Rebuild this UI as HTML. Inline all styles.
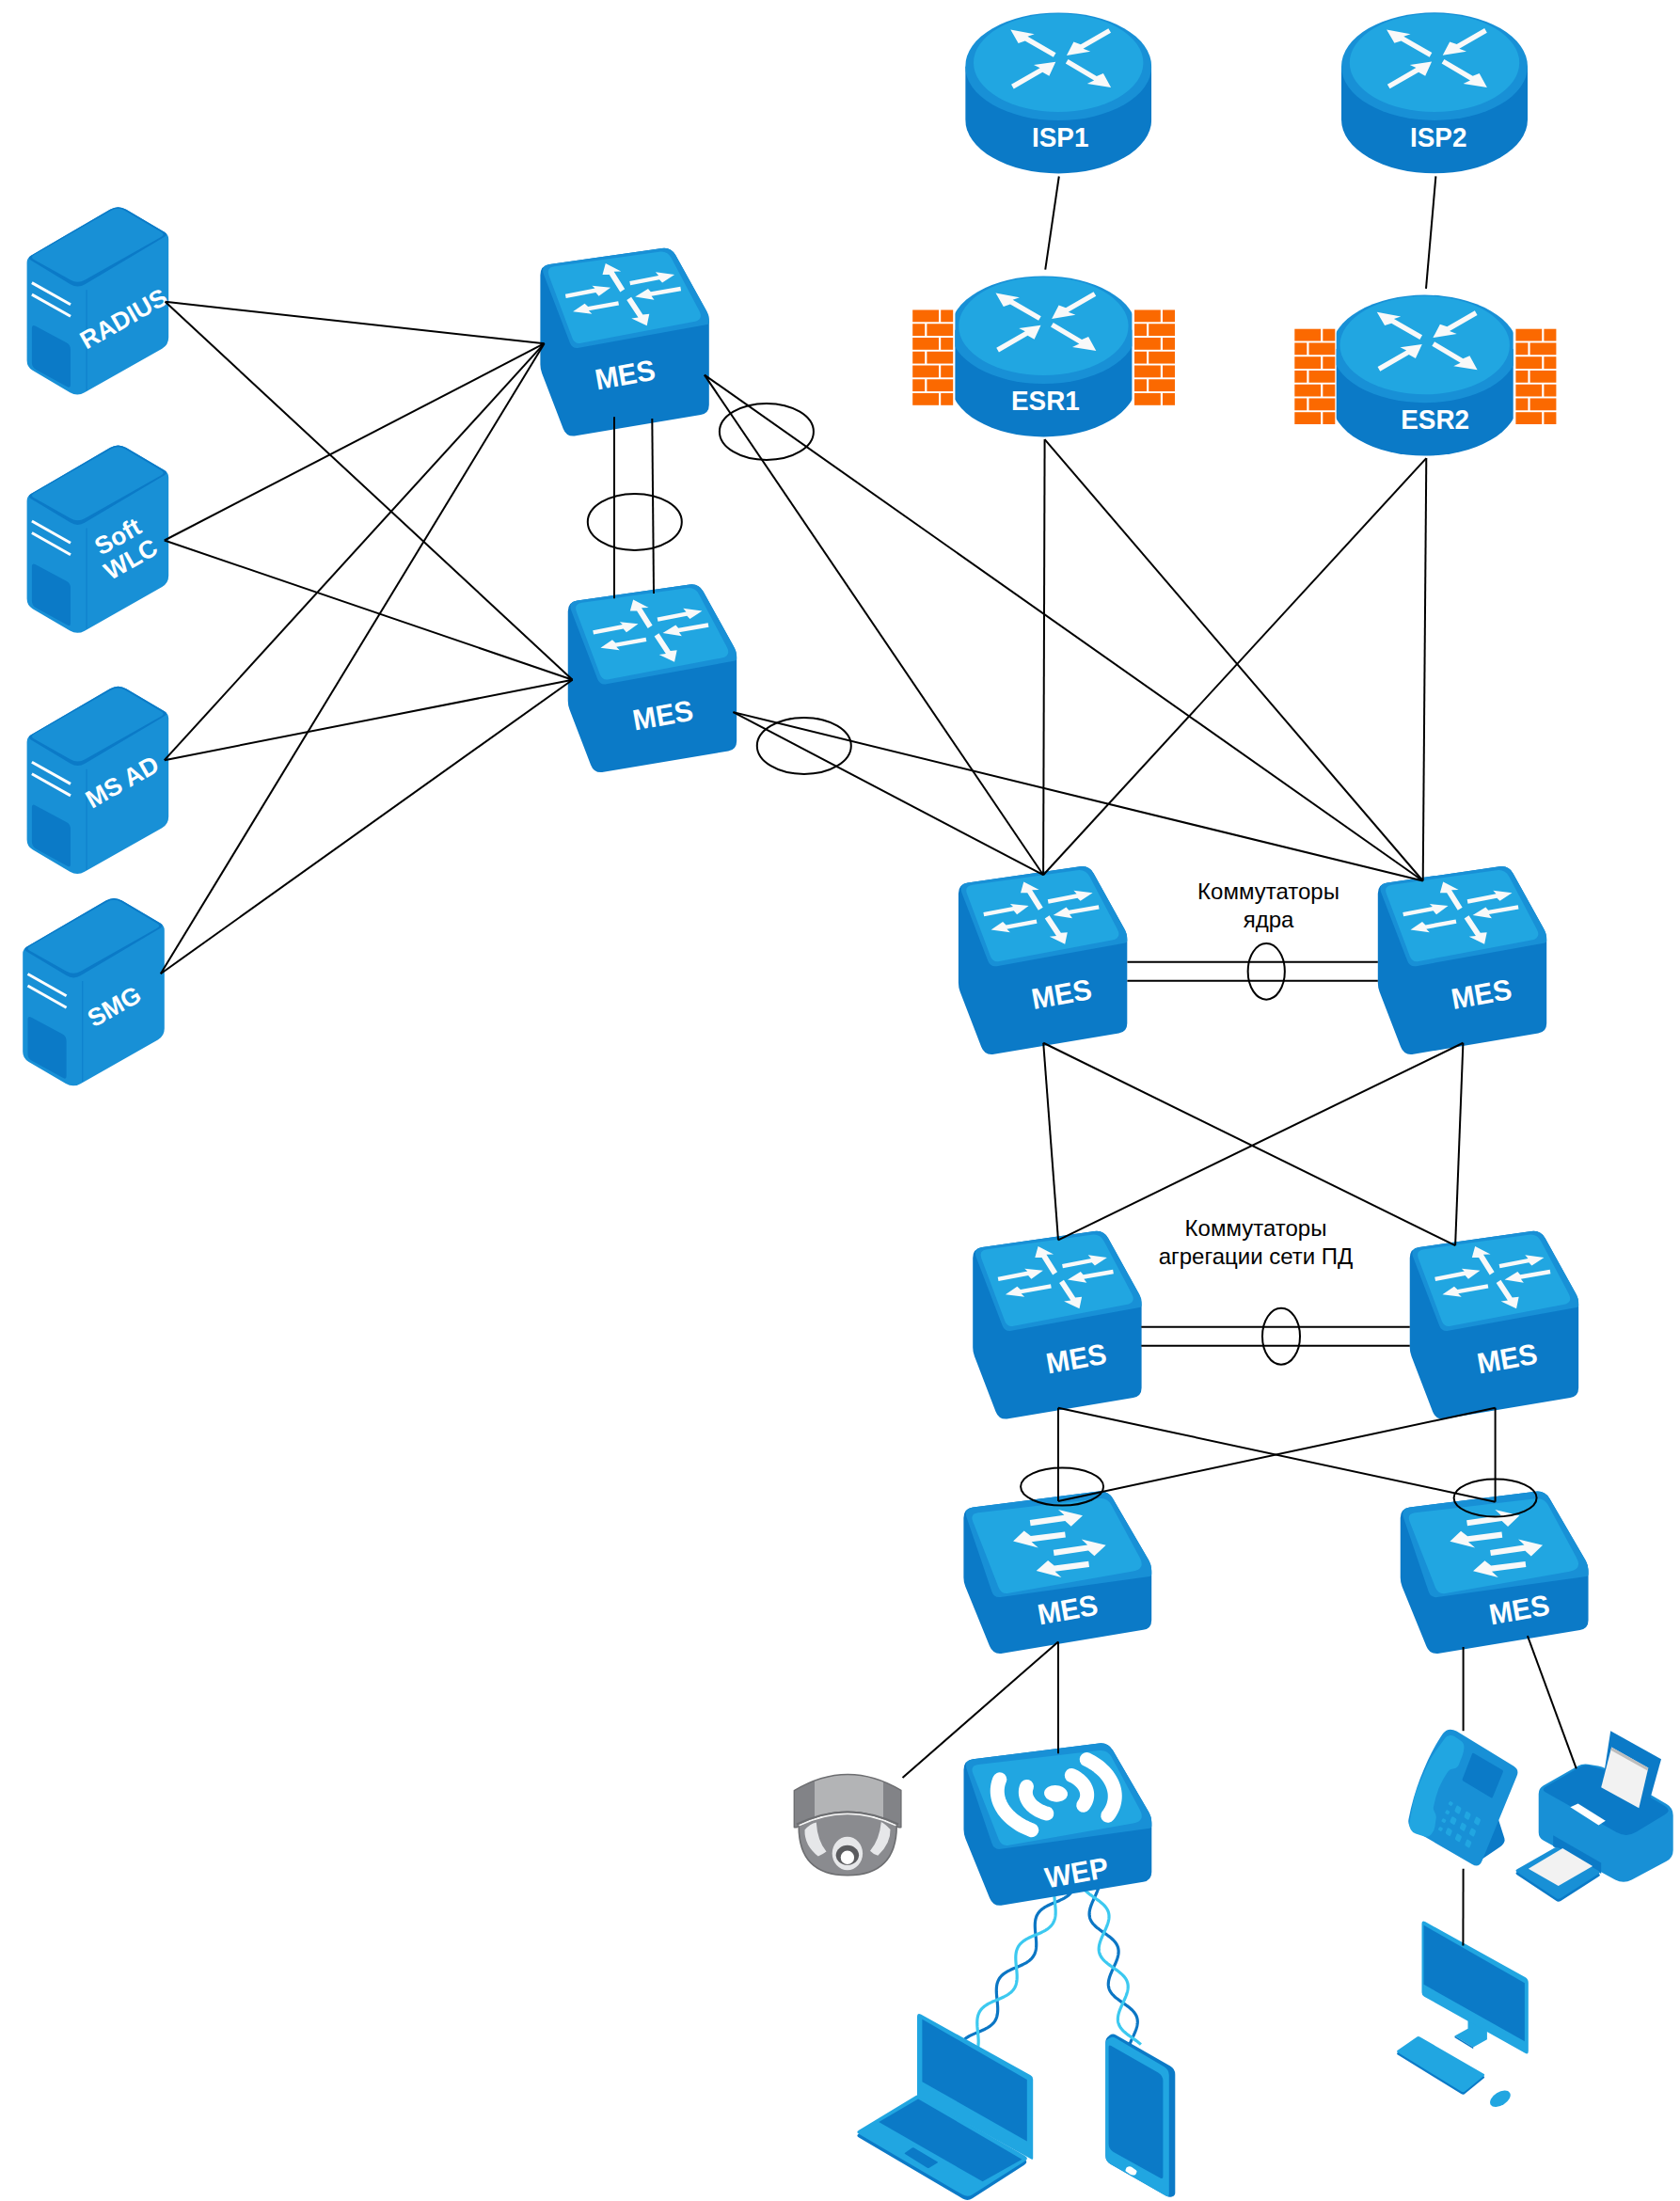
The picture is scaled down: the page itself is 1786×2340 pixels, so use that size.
<!DOCTYPE html>
<html><head><meta charset="utf-8"><title>network</title>
<style>html,body{margin:0;padding:0;background:#fff;width:1786px;height:2340px;overflow:hidden}svg{display:block}</style>
</head><body>
<svg xmlns="http://www.w3.org/2000/svg" width="1786" height="2340" viewBox="0 0 1786 2340">
<rect width="1786" height="2340" fill="#fff"/>
<g fill="none" stroke-width="3.2">
<path d="M1138.67 2012.02L1138.04 2012.79L1137.35 2013.54L1136.61 2014.26L1135.84 2014.95L1135.01 2015.61L1134.15 2016.25L1133.24 2016.87L1132.3 2017.47L1131.33 2018.04L1130.32 2018.59L1129.29 2019.13L1128.22 2019.66L1127.14 2020.17L1126.04 2020.67L1124.92 2021.16L1123.79 2021.64L1122.66 2022.12L1121.52 2022.59L1120.38 2023.07L1119.24 2023.55L1118.11 2024.03L1116.99 2024.52L1115.89 2025.02L1114.81 2025.53L1113.74 2026.05L1112.71 2026.59L1111.7 2027.15L1110.72 2027.72L1109.78 2028.31L1108.88 2028.93L1108.01 2029.57L1107.19 2030.23L1106.41 2030.92L1105.67 2031.64L1104.98 2032.39L1104.34 2033.16L1103.75 2033.96L1103.21 2034.79L1102.71 2035.65L1102.27 2036.54L1101.87 2037.46L1101.52 2038.41L1101.22 2039.38L1100.97 2040.38L1100.76 2041.41L1100.59 2042.47L1100.46 2043.55L1100.37 2044.65L1100.32 2045.77L1100.3 2046.91L1100.31 2048.07L1100.35 2049.25L1100.41 2050.44L1100.49 2051.64L1100.58 2052.85L1100.69 2054.07L1100.81 2055.29L1100.94 2056.52L1101.07 2057.75L1101.19 2058.98L1101.31 2060.21L1101.42 2061.42L1101.52 2062.64L1101.6 2063.84L1101.66 2065.03L1101.69 2066.2L1101.7 2067.36L1101.68 2068.5L1101.62 2069.62L1101.53 2070.72L1101.4 2071.8L1101.23 2072.85L1101.02 2073.88L1100.76 2074.88L1100.46 2075.85L1100.11 2076.8L1099.71 2077.71L1099.26 2078.6L1098.76 2079.46L1098.22 2080.29L1097.62 2081.09L1096.98 2081.86L1096.29 2082.6L1095.55 2083.32L1094.76 2084.01L1093.94 2084.67L1093.07 2085.31L1092.16 2085.92L1091.22 2086.52L1090.24 2087.09L1089.23 2087.64L1088.19 2088.18L1087.13 2088.7L1086.04 2089.21L1084.94 2089.71L1083.82 2090.2L1082.69 2090.68L1081.56 2091.16L1080.42 2091.64L1079.28 2092.11L1078.14 2092.59L1077.01 2093.07L1075.89 2093.56L1074.79 2094.06L1073.71 2094.57L1072.65 2095.1L1071.62 2095.64L1070.61 2096.19L1069.64 2096.77L1068.7 2097.37L1067.8 2097.98L1066.94 2098.63L1066.12 2099.29L1065.34 2099.99L1064.61 2100.71L1063.92 2101.45L1063.29 2102.23L1062.7 2103.03L1062.16 2103.87L1061.67 2104.73L1061.23 2105.62L1060.84 2106.54L1060.5 2107.49L1060.2 2108.47L1059.95 2109.47L1059.74 2110.51L1059.58 2111.56L1059.45 2112.64L1059.37 2113.74L1059.32 2114.87L1059.3 2116.01L1059.31 2117.17L1059.35 2118.35L1059.41 2119.54L1059.49 2120.74L1059.59 2121.96L1059.7 2123.18L1059.83 2124.4L1059.95 2125.63L1060.08 2126.86L1060.2 2128.09L1060.32 2129.31L1060.43 2130.53L1060.53 2131.74L1060.6 2132.94L1060.66 2134.13L1060.69 2135.3L1060.7 2136.46L1060.67 2137.6L1060.62 2138.72L1060.52 2139.82L1060.39 2140.89L1060.21 2141.94L1060 2142.97L1059.74 2143.96L1059.43 2144.93L1059.07 2145.88L1058.67 2146.79L1058.22 2147.68L1057.72 2148.53L1057.17 2149.36L1056.57 2150.16L1055.92 2150.93L1055.22 2151.67L1054.48 2152.38L1053.69 2153.07L1052.86 2153.73L1051.99 2154.36L1051.08 2154.98L1050.13 2155.57L1049.15 2156.14L1048.14 2156.69L1047.1 2157.23L1046.04 2157.75L1044.95 2158.25L1043.84 2158.75L1042.72 2159.24L1041.59 2159.72L1040.46 2160.2L1039.32 2160.68L1038.18 2161.15L1037.04 2161.63L1035.91 2162.12L1034.8 2162.61L1033.7 2163.11L1032.62 2163.62L1031.56 2164.15L1030.53 2164.69L1029.52 2165.24L1028.55 2165.82L1027.62 2166.42L1026.72 2167.04L1025.86 2167.68L1025.05 2168.35L1024.27 2169.05L1023.55 2169.77L1022.87 2170.52L1022.23 2171.3L1021.65 2172.1L1021.12 2172.94" stroke="#0B76C4"/>
<path d="M1122.58 2002.46L1122.21 2003.39L1121.88 2004.35L1121.6 2005.34L1121.37 2006.35L1121.18 2007.39L1121.03 2008.46L1120.92 2009.55L1120.84 2010.66L1120.81 2011.79L1120.8 2012.94L1120.82 2014.1L1120.87 2015.29L1120.94 2016.48L1121.03 2017.69L1121.13 2018.9L1121.25 2020.13L1121.37 2021.35L1121.5 2022.58L1121.63 2023.81L1121.75 2025.04L1121.86 2026.26L1121.97 2027.48L1122.06 2028.68L1122.13 2029.88L1122.18 2031.06L1122.2 2032.23L1122.19 2033.38L1122.16 2034.51L1122.09 2035.62L1121.98 2036.71L1121.83 2037.78L1121.64 2038.82L1121.41 2039.84L1121.13 2040.82L1120.8 2041.79L1120.43 2042.72L1120.01 2043.62L1119.54 2044.5L1119.02 2045.34L1118.45 2046.16L1117.83 2046.94L1117.17 2047.7L1116.45 2048.43L1115.7 2049.14L1114.89 2049.81L1114.05 2050.46L1113.16 2051.09L1112.24 2051.7L1111.28 2052.28L1110.28 2052.84L1109.26 2053.39L1108.21 2053.92L1107.14 2054.44L1106.04 2054.94L1104.93 2055.43L1103.81 2055.92L1102.67 2056.4L1101.54 2056.88L1100.4 2057.35L1099.26 2057.83L1098.12 2058.31L1097 2058.8L1095.89 2059.29L1094.8 2059.8L1093.72 2060.31L1092.68 2060.84L1091.65 2061.39L1090.66 2061.95L1089.71 2062.54L1088.78 2063.15L1087.9 2063.77L1087.06 2064.43L1086.26 2065.11L1085.5 2065.81L1084.79 2066.54L1084.13 2067.3L1083.51 2068.09L1082.95 2068.91L1082.43 2069.76L1081.96 2070.63L1081.55 2071.54L1081.18 2072.47L1080.85 2073.43L1080.58 2074.42L1080.35 2075.44L1080.16 2076.48L1080.02 2077.55L1079.91 2078.64L1079.84 2079.75L1079.8 2080.89L1079.8 2082.04L1079.83 2083.21L1079.88 2084.39L1079.95 2085.59L1080.04 2086.8L1080.14 2088.01L1080.26 2089.23L1080.38 2090.46L1080.51 2091.69L1080.64 2092.92L1080.76 2094.15L1080.87 2095.37L1080.98 2096.58L1081.06 2097.79L1081.13 2098.98L1081.18 2100.17L1081.2 2101.33L1081.19 2102.48L1081.15 2103.61L1081.08 2104.72L1080.97 2105.81L1080.81 2106.87L1080.62 2107.91L1080.38 2108.92L1080.1 2109.91L1079.77 2110.87L1079.39 2111.8L1078.97 2112.7L1078.49 2113.57L1077.97 2114.41L1077.4 2115.23L1076.78 2116.01L1076.11 2116.77L1075.39 2117.5L1074.63 2118.2L1073.82 2118.87L1072.97 2119.52L1072.08 2120.15L1071.15 2120.75L1070.19 2121.33L1069.2 2121.89L1068.17 2122.44L1067.12 2122.97L1066.04 2123.48L1064.95 2123.98L1063.83 2124.48L1062.71 2124.96L1061.57 2125.44L1060.44 2125.92L1059.29 2126.39L1058.16 2126.87L1057.02 2127.35L1055.9 2127.84L1054.79 2128.33L1053.7 2128.84L1052.63 2129.36L1051.59 2129.89L1050.57 2130.44L1049.58 2131.01L1048.62 2131.59L1047.7 2132.2L1046.82 2132.83L1045.98 2133.49L1045.19 2134.17L1044.44 2134.87L1043.73 2135.61L1043.07 2136.37L1042.46 2137.16L1041.9 2137.98L1041.39 2138.83L1040.93 2139.71L1040.51 2140.62L1040.15 2141.56L1039.83 2142.52L1039.56 2143.51L1039.33 2144.53L1039.15 2145.58L1039 2146.65L1038.9 2147.74L1038.84 2148.85L1038.8 2149.99L1038.8 2151.14L1038.83 2152.31L1038.88 2153.5L1038.95 2154.69L1039.05 2155.9L1039.15 2157.12L1039.27 2158.34L1039.39 2159.57L1039.52 2160.8L1039.65 2162.03L1039.77 2163.25L1039.88 2164.48L1039.98 2165.69L1040.07 2166.9L1040.14 2168.09L1040.18 2169.27L1040.2 2170.43L1040.19 2171.58L1040.15 2172.71L1040.07 2173.82L1039.95 2174.9L1039.8 2175.96L1039.6 2177L1039.36 2178.01L1039.07 2179L1038.74 2179.95L1038.36 2180.88L1037.93 2181.78L1037.45 2182.65" stroke="#3CC9F0"/>
<path d="M1168.38 1996.12L1168.6 1997.01L1168.76 1997.92L1168.86 1998.84L1168.91 1999.77L1168.91 2000.72L1168.86 2001.68L1168.75 2002.66L1168.6 2003.64L1168.41 2004.65L1168.17 2005.66L1167.89 2006.68L1167.57 2007.71L1167.22 2008.76L1166.84 2009.81L1166.43 2010.87L1165.99 2011.93L1165.53 2013L1165.06 2014.08L1164.58 2015.16L1164.08 2016.24L1163.58 2017.32L1163.08 2018.41L1162.59 2019.49L1162.1 2020.57L1161.62 2021.65L1161.16 2022.72L1160.71 2023.79L1160.29 2024.85L1159.9 2025.9L1159.54 2026.95L1159.21 2027.98L1158.92 2029.01L1158.67 2030.03L1158.46 2031.03L1158.29 2032.02L1158.17 2033L1158.1 2033.97L1158.08 2034.92L1158.12 2035.86L1158.2 2036.78L1158.35 2037.69L1158.54 2038.59L1158.79 2039.47L1159.1 2040.33L1159.46 2041.18L1159.87 2042.02L1160.34 2042.84L1160.86 2043.65L1161.43 2044.44L1162.04 2045.22L1162.71 2045.99L1163.41 2046.74L1164.16 2047.49L1164.95 2048.22L1165.77 2048.95L1166.62 2049.67L1167.5 2050.37L1168.41 2051.08L1169.34 2051.77L1170.29 2052.46L1171.25 2053.15L1172.22 2053.84L1173.2 2054.52L1174.17 2055.2L1175.15 2055.88L1176.12 2056.57L1177.08 2057.26L1178.02 2057.95L1178.95 2058.65L1179.85 2059.35L1180.73 2060.06L1181.58 2060.78L1182.39 2061.5L1183.17 2062.24L1183.92 2062.99L1184.61 2063.75L1185.27 2064.52L1185.88 2065.3L1186.44 2066.09L1186.95 2066.9L1187.4 2067.73L1187.81 2068.57L1188.16 2069.42L1188.46 2070.29L1188.7 2071.17L1188.88 2072.07L1189.01 2072.98L1189.09 2073.9L1189.12 2074.85L1189.09 2075.8L1189.01 2076.77L1188.88 2077.75L1188.71 2078.75L1188.49 2079.75L1188.23 2080.77L1187.93 2081.8L1187.6 2082.84L1187.23 2083.88L1186.83 2084.94L1186.41 2086L1185.96 2087.07L1185.5 2088.14L1185.02 2089.22L1184.53 2090.3L1184.03 2091.38L1183.53 2092.47L1183.03 2093.55L1182.54 2094.63L1182.06 2095.71L1181.59 2096.78L1181.13 2097.85L1180.7 2098.92L1180.29 2099.98L1179.92 2101.03L1179.57 2102.07L1179.26 2103.1L1178.99 2104.12L1178.76 2105.13L1178.57 2106.13L1178.42 2107.12L1178.33 2108.09L1178.29 2109.05L1178.29 2109.99L1178.35 2110.92L1178.47 2111.84L1178.64 2112.74L1178.86 2113.63L1179.14 2114.5L1179.47 2115.36L1179.86 2116.2L1180.3 2117.03L1180.79 2117.85L1181.34 2118.65L1181.93 2119.43L1182.57 2120.21L1183.25 2120.97L1183.98 2121.72L1184.75 2122.46L1185.55 2123.19L1186.39 2123.91L1187.26 2124.62L1188.16 2125.33L1189.08 2126.03L1190.01 2126.72L1190.97 2127.41L1191.94 2128.09L1192.91 2128.78L1193.89 2129.46L1194.86 2130.14L1195.84 2130.83L1196.8 2131.51L1197.75 2132.2L1198.69 2132.9L1199.6 2133.6L1200.5 2134.3L1201.36 2135.02L1202.19 2135.74L1202.99 2136.47L1203.75 2137.21L1204.47 2137.97L1205.15 2138.73L1205.78 2139.51L1206.36 2140.3L1206.9 2141.1L1207.38 2141.92L1207.81 2142.75L1208.19 2143.59L1208.51 2144.45L1208.78 2145.33L1209 2146.22L1209.16 2147.12L1209.26 2148.04L1209.31 2148.97L1209.31 2149.92L1209.26 2150.88L1209.15 2151.86L1209 2152.85L1208.81 2153.85L1208.57 2154.86L1208.29 2155.88L1207.97 2156.92L1207.62 2157.96L1207.24 2159.01L1206.82 2160.07L1206.39 2161.14L1205.93 2162.21L1205.46 2163.28L1204.97 2164.36L1204.48 2165.44L1203.98 2166.53L1203.48 2167.61L1202.98 2168.69L1202.5 2169.77L1202.02 2170.85L1201.56 2171.92L1201.11 2172.99L1200.69 2174.05L1200.3 2175.1L1199.94 2176.15L1199.61 2177.19" stroke="#0B76C4"/>
<path d="M1148.5 2001.51L1148.76 2002.38L1149.08 2003.25L1149.46 2004.09L1149.88 2004.92L1150.36 2005.74L1150.89 2006.55L1151.47 2007.34L1152.1 2008.11L1152.78 2008.88L1153.49 2009.63L1154.25 2010.37L1155.05 2011.11L1155.88 2011.83L1156.74 2012.54L1157.63 2013.25L1158.54 2013.95L1159.48 2014.64L1160.43 2015.33L1161.39 2016.02L1162.36 2016.71L1163.34 2017.39L1164.32 2018.07L1165.29 2018.76L1166.26 2019.44L1167.22 2020.13L1168.16 2020.82L1169.08 2021.52L1169.97 2022.23L1170.84 2022.94L1171.69 2023.66L1172.49 2024.39L1173.26 2025.13L1173.99 2025.88L1174.68 2026.64L1175.33 2027.41L1175.92 2028.2L1176.47 2029L1176.97 2029.81L1177.41 2030.64L1177.8 2031.48L1178.14 2032.33L1178.42 2033.2L1178.65 2034.09L1178.82 2034.99L1178.94 2035.91L1179 2036.84L1179.01 2037.78L1178.97 2038.74L1178.88 2039.71L1178.75 2040.7L1178.56 2041.7L1178.33 2042.7L1178.06 2043.73L1177.75 2044.76L1177.41 2045.8L1177.03 2046.85L1176.63 2047.9L1176.2 2048.97L1175.75 2050.04L1175.28 2051.11L1174.8 2052.19L1174.3 2053.27L1173.81 2054.35L1173.31 2055.44L1172.81 2056.52L1172.32 2057.6L1171.84 2058.68L1171.37 2059.75L1170.92 2060.82L1170.5 2061.88L1170.1 2062.94L1169.73 2063.99L1169.39 2065.03L1169.09 2066.05L1168.83 2067.07L1168.6 2068.08L1168.43 2069.08L1168.3 2070.06L1168.22 2071.03L1168.18 2071.98L1168.2 2072.93L1168.28 2073.85L1168.41 2074.77L1168.59 2075.67L1168.82 2076.55L1169.12 2077.42L1169.46 2078.27L1169.86 2079.11L1170.32 2079.94L1170.82 2080.75L1171.38 2081.54L1171.98 2082.33L1172.64 2083.1L1173.33 2083.86L1174.07 2084.6L1174.85 2085.34L1175.66 2086.07L1176.51 2086.79L1177.38 2087.5L1178.28 2088.2L1179.21 2088.9L1180.15 2089.59L1181.11 2090.28L1182.08 2090.96L1183.05 2091.65L1184.03 2092.33L1185.01 2093.01L1185.98 2093.7L1186.94 2094.39L1187.89 2095.08L1188.82 2095.77L1189.73 2096.47L1190.61 2097.18L1191.47 2097.9L1192.29 2098.62L1193.08 2099.36L1193.83 2100.1L1194.54 2100.86L1195.21 2101.62L1195.83 2102.4L1196.4 2103.19L1196.92 2104L1197.4 2104.82L1197.81 2105.66L1198.18 2106.5L1198.49 2107.37L1198.74 2108.25L1198.94 2109.14L1199.09 2110.05L1199.18 2110.97L1199.22 2111.91L1199.2 2112.86L1199.13 2113.83L1199.02 2114.8L1198.86 2115.8L1198.65 2116.8L1198.4 2117.82L1198.11 2118.84L1197.79 2119.88L1197.43 2120.92L1197.04 2121.98L1196.62 2123.04L1196.18 2124.1L1195.72 2125.18L1195.24 2126.25L1194.75 2127.33L1194.26 2128.41L1193.76 2129.5L1193.26 2130.58L1192.76 2131.66L1192.27 2132.74L1191.8 2133.82L1191.34 2134.89L1190.91 2135.95L1190.49 2137.01L1190.11 2138.06L1189.75 2139.11L1189.43 2140.14L1189.15 2141.17L1188.91 2142.18L1188.71 2143.18L1188.56 2144.17L1188.45 2145.15L1188.39 2146.11L1188.39 2147.06L1188.43 2147.99L1188.54 2148.91L1188.69 2149.82L1188.9 2150.71L1189.16 2151.59L1189.48 2152.45L1189.86 2153.29L1190.28 2154.13L1190.76 2154.94L1191.3 2155.75L1191.88 2156.54L1192.51 2157.32L1193.18 2158.08L1193.9 2158.83L1194.65 2159.58L1195.45 2160.31L1196.28 2161.03L1197.14 2161.75L1198.03 2162.45L1198.94 2163.15L1199.88 2163.85L1200.83 2164.54L1201.79 2165.22L1202.77 2165.91L1203.74 2166.59L1204.72 2167.27L1205.7 2167.96L1206.66 2168.64L1207.62 2169.33L1208.56 2170.02L1209.48 2170.72L1210.38 2171.43L1211.25 2172.14L1212.09 2172.86L1212.89 2173.59" stroke="#3CC9F0"/>
</g>
<g transform="translate(1026.2 13.4)">
<defs><clipPath id="rclip1"><rect x="0" y="-2" width="198" height="175"/></clipPath></defs>
<g clip-path="url(#rclip1)">
<path d="M0 57.3 V113.7 A99 57.3 0 0 0 198 113.7 V57.3 Z" fill="#0B7AC7"/>
<ellipse cx="99" cy="57.3" rx="99" ry="57.3" fill="#1890D6"/>
</g>
<ellipse cx="99" cy="53.4" rx="90.2" ry="52.3" fill="#21A6E1"/>
<g transform="translate(0 0)">
<polygon points="96.35,42.76 66.25,25.44 73.5,22.9 48.1,18.1 56.4,32.5 63.56,30.12 93.65,47.44" fill="#F9F9F9" />
<polygon points="152.15,16.76 122.66,33.76 115.2,31.1 107.7,45.5 133,41.4 125.36,38.44 154.85,21.44" fill="#F9F9F9" />
<polygon points="51.55,81.04 82.1,63.47 89.2,67.4 96.1,52.3 72.8,55.7 79.41,58.78 48.85,76.36" fill="#F9F9F9" />
<polygon points="106.62,54.22 136.92,72.18 129.6,75.6 154.9,79.7 146.7,64.6 139.67,67.53 109.38,49.58" fill="#F9F9F9" />
</g>
<text transform="translate(101 142.5) scale(0.93 1)" x="0" y="0" text-anchor="middle" font-family="Liberation Sans, sans-serif" font-weight="bold" font-size="30" fill="#fff">ISP1</text>
</g>
<g transform="translate(1426 13.3)">
<defs><clipPath id="rclip2"><rect x="0" y="-2" width="198" height="175"/></clipPath></defs>
<g clip-path="url(#rclip2)">
<path d="M0 57.3 V113.7 A99 57.3 0 0 0 198 113.7 V57.3 Z" fill="#0B7AC7"/>
<ellipse cx="99" cy="57.3" rx="99" ry="57.3" fill="#1890D6"/>
</g>
<ellipse cx="99" cy="53.4" rx="90.2" ry="52.3" fill="#21A6E1"/>
<g transform="translate(0 0)">
<polygon points="96.35,42.76 66.25,25.44 73.5,22.9 48.1,18.1 56.4,32.5 63.56,30.12 93.65,47.44" fill="#F9F9F9" />
<polygon points="152.15,16.76 122.66,33.76 115.2,31.1 107.7,45.5 133,41.4 125.36,38.44 154.85,21.44" fill="#F9F9F9" />
<polygon points="51.55,81.04 82.1,63.47 89.2,67.4 96.1,52.3 72.8,55.7 79.41,58.78 48.85,76.36" fill="#F9F9F9" />
<polygon points="106.62,54.22 136.92,72.18 129.6,75.6 154.9,79.7 146.7,64.6 139.67,67.53 109.38,49.58" fill="#F9F9F9" />
</g>
<text transform="translate(103.2 142.5) scale(0.93 1)" x="0" y="0" text-anchor="middle" font-family="Liberation Sans, sans-serif" font-weight="bold" font-size="30" fill="#fff">ISP2</text>
</g>
<g transform="translate(1015.4 293.4)">
<defs><clipPath id="rclip3"><rect x="0" y="-2" width="188" height="175"/></clipPath></defs>
<g clip-path="url(#rclip3)">
<path d="M-5 57.3 V113.7 A99 57.3 0 0 0 193 113.7 V57.3 Z" fill="#0B7AC7"/>
<ellipse cx="94" cy="57.3" rx="99" ry="57.3" fill="#1890D6"/>
</g>
<ellipse cx="94" cy="53.4" rx="90.2" ry="52.3" fill="#21A6E1"/>
<g transform="translate(-5 0)">
<polygon points="96.35,42.76 66.25,25.44 73.5,22.9 48.1,18.1 56.4,32.5 63.56,30.12 93.65,47.44" fill="#F9F9F9" />
<polygon points="152.15,16.76 122.66,33.76 115.2,31.1 107.7,45.5 133,41.4 125.36,38.44 154.85,21.44" fill="#F9F9F9" />
<polygon points="51.55,81.04 82.1,63.47 89.2,67.4 96.1,52.3 72.8,55.7 79.41,58.78 48.85,76.36" fill="#F9F9F9" />
<polygon points="106.62,54.22 136.92,72.18 129.6,75.6 154.9,79.7 146.7,64.6 139.67,67.53 109.38,49.58" fill="#F9F9F9" />
</g>
<text transform="translate(96 142.5) scale(0.93 1)" x="0" y="0" text-anchor="middle" font-family="Liberation Sans, sans-serif" font-weight="bold" font-size="30" fill="#fff">ESR1</text>
</g>
<g transform="translate(1420.7 313.6)">
<defs><clipPath id="rclip4"><rect x="0" y="-2" width="188" height="175"/></clipPath></defs>
<g clip-path="url(#rclip4)">
<path d="M-5 57.3 V113.7 A99 57.3 0 0 0 193 113.7 V57.3 Z" fill="#0B7AC7"/>
<ellipse cx="94" cy="57.3" rx="99" ry="57.3" fill="#1890D6"/>
</g>
<ellipse cx="94" cy="53.4" rx="90.2" ry="52.3" fill="#21A6E1"/>
<g transform="translate(-5 0)">
<polygon points="96.35,42.76 66.25,25.44 73.5,22.9 48.1,18.1 56.4,32.5 63.56,30.12 93.65,47.44" fill="#F9F9F9" />
<polygon points="152.15,16.76 122.66,33.76 115.2,31.1 107.7,45.5 133,41.4 125.36,38.44 154.85,21.44" fill="#F9F9F9" />
<polygon points="51.55,81.04 82.1,63.47 89.2,67.4 96.1,52.3 72.8,55.7 79.41,58.78 48.85,76.36" fill="#F9F9F9" />
<polygon points="106.62,54.22 136.92,72.18 129.6,75.6 154.9,79.7 146.7,64.6 139.67,67.53 109.38,49.58" fill="#F9F9F9" />
</g>
<text transform="translate(104.9 142.5) scale(0.93 1)" x="0" y="0" text-anchor="middle" font-family="Liberation Sans, sans-serif" font-weight="bold" font-size="30" fill="#fff">ESR2</text>
</g>
<g transform="translate(970.2 329.5)" fill="#FB6900">
<rect x="0" y="0" width="27.8" height="12.8"/>
<rect x="30" y="0" width="13" height="12.8"/>
<rect x="0" y="14.75" width="13" height="12.8"/>
<rect x="15.2" y="14.75" width="27.8" height="12.8"/>
<rect x="0" y="29.5" width="27.8" height="12.8"/>
<rect x="30" y="29.5" width="13" height="12.8"/>
<rect x="0" y="44.25" width="13" height="12.8"/>
<rect x="15.2" y="44.25" width="27.8" height="12.8"/>
<rect x="0" y="59" width="27.8" height="12.8"/>
<rect x="30" y="59" width="13" height="12.8"/>
<rect x="0" y="73.75" width="13" height="12.8"/>
<rect x="15.2" y="73.75" width="27.8" height="12.8"/>
<rect x="0" y="88.5" width="27.8" height="12.8"/>
<rect x="30" y="88.5" width="13" height="12.8"/>
</g>
<g transform="translate(1206 329.5)" fill="#FB6900">
<rect x="0" y="0" width="27.8" height="12.8"/>
<rect x="30" y="0" width="13" height="12.8"/>
<rect x="0" y="14.75" width="13" height="12.8"/>
<rect x="15.2" y="14.75" width="27.8" height="12.8"/>
<rect x="0" y="29.5" width="27.8" height="12.8"/>
<rect x="30" y="29.5" width="13" height="12.8"/>
<rect x="0" y="44.25" width="13" height="12.8"/>
<rect x="15.2" y="44.25" width="27.8" height="12.8"/>
<rect x="0" y="59" width="27.8" height="12.8"/>
<rect x="30" y="59" width="13" height="12.8"/>
<rect x="0" y="73.75" width="13" height="12.8"/>
<rect x="15.2" y="73.75" width="27.8" height="12.8"/>
<rect x="0" y="88.5" width="27.8" height="12.8"/>
<rect x="30" y="88.5" width="13" height="12.8"/>
</g>
<g transform="translate(1376.3 349.7)" fill="#FB6900">
<rect x="0" y="0" width="27.8" height="12.8"/>
<rect x="30" y="0" width="13" height="12.8"/>
<rect x="0" y="14.75" width="13" height="12.8"/>
<rect x="15.2" y="14.75" width="27.8" height="12.8"/>
<rect x="0" y="29.5" width="27.8" height="12.8"/>
<rect x="30" y="29.5" width="13" height="12.8"/>
<rect x="0" y="44.25" width="13" height="12.8"/>
<rect x="15.2" y="44.25" width="27.8" height="12.8"/>
<rect x="0" y="59" width="27.8" height="12.8"/>
<rect x="30" y="59" width="13" height="12.8"/>
<rect x="0" y="73.75" width="13" height="12.8"/>
<rect x="15.2" y="73.75" width="27.8" height="12.8"/>
<rect x="0" y="88.5" width="27.8" height="12.8"/>
<rect x="30" y="88.5" width="13" height="12.8"/>
</g>
<g transform="translate(1611.4 349.7)" fill="#FB6900">
<rect x="0" y="0" width="27.8" height="12.8"/>
<rect x="30" y="0" width="13" height="12.8"/>
<rect x="0" y="14.75" width="13" height="12.8"/>
<rect x="15.2" y="14.75" width="27.8" height="12.8"/>
<rect x="0" y="29.5" width="27.8" height="12.8"/>
<rect x="30" y="29.5" width="13" height="12.8"/>
<rect x="0" y="44.25" width="13" height="12.8"/>
<rect x="15.2" y="44.25" width="27.8" height="12.8"/>
<rect x="0" y="59" width="27.8" height="12.8"/>
<rect x="30" y="59" width="13" height="12.8"/>
<rect x="0" y="73.75" width="13" height="12.8"/>
<rect x="15.2" y="73.75" width="27.8" height="12.8"/>
<rect x="0" y="88.5" width="27.8" height="12.8"/>
<rect x="30" y="88.5" width="13" height="12.8"/>
</g>
<g transform="translate(28.6 220.2)">
<path d="M88.36 2.44Q97 -2.6 105.61 2.48L146.29 26.46Q150.6 29 150.6 34L150.6 138.5Q150.6 146.5 143.64 150.44L61.33 197.06Q53.5 201.5 45.74 196.93L6.03 173.55Q0 170 0 163L0 59Q0 54 4.32 51.48Z" fill="#1890D6" />
<path d="M4.28 56.58Q0 54 4.32 51.48L88.36 2.44Q97 -2.6 105.61 2.48L146.29 26.46Q150.6 29 146.31 31.56L61.73 81.99Q54 86.6 46.3 81.95Z" fill="#0B7AC7" />
<path d="M7.56 55.75Q3.2 53.3 7.54 50.81L89.2 3.88Q97 -0.6 104.74 3.99L142.9 26.65Q147.2 29.2 142.85 31.66L61.84 77.38Q54 81.8 46.15 77.4Z" fill="#1890D6" />
<line x1="63.5" y1="88" x2="63.5" y2="195" stroke="#0F82CD" stroke-width="1.3"/>
<line x1="5.3" y1="80.4" x2="46.4" y2="103.6" stroke="#fff" stroke-width="3"/>
<line x1="5.3" y1="92.9" x2="46.4" y2="116.1" stroke="#fff" stroke-width="3"/>
<path d="M5.3 128.5Q5.3 124.5 8.83 126.39L41.99 144.14Q46.4 146.5 46.4 151.5L46.4 188.9Q46.4 192.9 42.89 190.97L9.68 172.71Q5.3 170.3 5.3 165.3Z" fill="#0B7AC7" />
<text transform="translate(102.6 118.2) rotate(-29.7)" text-anchor="middle" font-family="Liberation Sans, sans-serif" font-weight="bold" font-size="26.5" fill="#fff"><tspan x="0" y="9.54">RADIUS</tspan></text>
</g>
<g transform="translate(28.6 473.6)">
<path d="M88.36 2.44Q97 -2.6 105.61 2.48L146.29 26.46Q150.6 29 150.6 34L150.6 138.5Q150.6 146.5 143.64 150.44L61.33 197.06Q53.5 201.5 45.74 196.93L6.03 173.55Q0 170 0 163L0 59Q0 54 4.32 51.48Z" fill="#1890D6" />
<path d="M4.28 56.58Q0 54 4.32 51.48L88.36 2.44Q97 -2.6 105.61 2.48L146.29 26.46Q150.6 29 146.31 31.56L61.73 81.99Q54 86.6 46.3 81.95Z" fill="#0B7AC7" />
<path d="M7.56 55.75Q3.2 53.3 7.54 50.81L89.2 3.88Q97 -0.6 104.74 3.99L142.9 26.65Q147.2 29.2 142.85 31.66L61.84 77.38Q54 81.8 46.15 77.4Z" fill="#1890D6" />
<line x1="63.5" y1="88" x2="63.5" y2="195" stroke="#0F82CD" stroke-width="1.3"/>
<line x1="5.3" y1="80.4" x2="46.4" y2="103.6" stroke="#fff" stroke-width="3"/>
<line x1="5.3" y1="92.9" x2="46.4" y2="116.1" stroke="#fff" stroke-width="3"/>
<path d="M5.3 128.5Q5.3 124.5 8.83 126.39L41.99 144.14Q46.4 146.5 46.4 151.5L46.4 188.9Q46.4 192.9 42.89 190.97L9.68 172.71Q5.3 170.3 5.3 165.3Z" fill="#0B7AC7" />
<text transform="translate(103.3 108.4) rotate(-29.7)" text-anchor="middle" font-family="Liberation Sans, sans-serif" font-weight="bold" font-size="26.5" fill="#fff"><tspan x="0" y="-4.37">Soft</tspan><tspan x="0" y="23.45">WLC</tspan></text>
</g>
<g transform="translate(28.6 729.8)">
<path d="M88.36 2.44Q97 -2.6 105.61 2.48L146.29 26.46Q150.6 29 150.6 34L150.6 138.5Q150.6 146.5 143.64 150.44L61.33 197.06Q53.5 201.5 45.74 196.93L6.03 173.55Q0 170 0 163L0 59Q0 54 4.32 51.48Z" fill="#1890D6" />
<path d="M4.28 56.58Q0 54 4.32 51.48L88.36 2.44Q97 -2.6 105.61 2.48L146.29 26.46Q150.6 29 146.31 31.56L61.73 81.99Q54 86.6 46.3 81.95Z" fill="#0B7AC7" />
<path d="M7.56 55.75Q3.2 53.3 7.54 50.81L89.2 3.88Q97 -0.6 104.74 3.99L142.9 26.65Q147.2 29.2 142.85 31.66L61.84 77.38Q54 81.8 46.15 77.4Z" fill="#1890D6" />
<line x1="63.5" y1="88" x2="63.5" y2="195" stroke="#0F82CD" stroke-width="1.3"/>
<line x1="5.3" y1="80.4" x2="46.4" y2="103.6" stroke="#fff" stroke-width="3"/>
<line x1="5.3" y1="92.9" x2="46.4" y2="116.1" stroke="#fff" stroke-width="3"/>
<path d="M5.3 128.5Q5.3 124.5 8.83 126.39L41.99 144.14Q46.4 146.5 46.4 151.5L46.4 188.9Q46.4 192.9 42.89 190.97L9.68 172.71Q5.3 170.3 5.3 165.3Z" fill="#0B7AC7" />
<text transform="translate(101.1 101) rotate(-29.7)" text-anchor="middle" font-family="Liberation Sans, sans-serif" font-weight="bold" font-size="26.5" fill="#fff"><tspan x="0" y="9.54">MS AD</tspan></text>
</g>
<g transform="translate(24.2 955.1)">
<path d="M88.36 2.44Q97 -2.6 105.61 2.48L146.29 26.46Q150.6 29 150.6 34L150.6 138.5Q150.6 146.5 143.64 150.44L61.33 197.06Q53.5 201.5 45.74 196.93L6.03 173.55Q0 170 0 163L0 59Q0 54 4.32 51.48Z" fill="#1890D6" />
<path d="M4.28 56.58Q0 54 4.32 51.48L88.36 2.44Q97 -2.6 105.61 2.48L146.29 26.46Q150.6 29 146.31 31.56L61.73 81.99Q54 86.6 46.3 81.95Z" fill="#0B7AC7" />
<path d="M7.56 55.75Q3.2 53.3 7.54 50.81L89.2 3.88Q97 -0.6 104.74 3.99L142.9 26.65Q147.2 29.2 142.85 31.66L61.84 77.38Q54 81.8 46.15 77.4Z" fill="#1890D6" />
<line x1="63.5" y1="88" x2="63.5" y2="195" stroke="#0F82CD" stroke-width="1.3"/>
<line x1="5.3" y1="80.4" x2="46.4" y2="103.6" stroke="#fff" stroke-width="3"/>
<line x1="5.3" y1="92.9" x2="46.4" y2="116.1" stroke="#fff" stroke-width="3"/>
<path d="M5.3 128.5Q5.3 124.5 8.83 126.39L41.99 144.14Q46.4 146.5 46.4 151.5L46.4 188.9Q46.4 192.9 42.89 190.97L9.68 172.71Q5.3 170.3 5.3 165.3Z" fill="#0B7AC7" />
<text transform="translate(97 114.5) rotate(-29.7)" text-anchor="middle" font-family="Liberation Sans, sans-serif" font-weight="bold" font-size="26.5" fill="#fff"><tspan x="0" y="9.54">SMG</tspan></text>
</g>
<g transform="translate(574.4 265)">
<path d="M0 27.5Q0 17.5 9.9 16.08L129.1 -1.08Q139 -2.5 143.84 6.25L176.01 64.38Q179.4 70.5 179.4 77.5L179.4 165.5Q179.4 174.5 170.52 175.99L37.76 198.34Q27.9 200 24.31 190.67L1.79 132.07Q0 127.4 0 122.4Z" fill="#0B7AC7" />
<path d="M3.59 26.83Q0 17.5 9.9 16.08L129.1 -1.08Q139 -2.5 143.84 6.25L177.38 66.84Q179.4 70.5 179.4 74.68L179.4 77.7Q179.4 79.7 177.43 80.06L40.89 104.75Q34 106 31.49 99.47Z" fill="#1890D6" />
<path d="M9.15 27.93Q6 19.5 14.91 18.26L126.29 2.74Q135.2 1.5 139.4 9.46L168.86 65.27Q174 75 163.19 77.04L43.38 99.7Q36.5 101 34.05 94.44Z" fill="#21A6E1" />
<polygon points="27.31,51.96 58.92,45.94 62.2,49.8 74.7,40.7 55,38.7 58.1,41.62 26.49,47.64" fill="#F9F9F9" />
<polygon points="82.8,55.14 50.69,61.03 47.2,57.7 34.7,66.2 55,68.8 51.49,65.36 83.6,59.46" fill="#F9F9F9" />
<polygon points="89.86,42.36 78.26,23.81 85.8,23.6 69.4,15.1 66.1,26.9 73.34,26.88 84.94,45.44" fill="#F9F9F9" />
<polygon points="91.88,53.99 104.11,72.6 96.9,73.4 113.3,81.3 115.9,68.8 108.96,69.42 96.72,50.81" fill="#F9F9F9" />
<polygon points="95.72,38.26 126.57,32.27 129.7,35.4 142.7,26.9 122.5,24.3 125.73,27.95 94.88,33.94" fill="#F9F9F9" />
<polygon points="148.92,39.83 117.4,45.36 114.6,42 100.8,50.5 121.1,53.8 118.16,49.69 149.68,44.17" fill="#F9F9F9" />
<text x="0" y="0" transform="translate(92 144) rotate(-10) scale(0.96 1)" text-anchor="middle" font-family="Liberation Sans, sans-serif" font-weight="bold" font-size="31" fill="#fff">MES</text>
</g>
<g transform="translate(603.75 622.5)">
<path d="M0 27.5Q0 17.5 9.9 16.08L129.1 -1.08Q139 -2.5 143.84 6.25L176.01 64.38Q179.4 70.5 179.4 77.5L179.4 165.5Q179.4 174.5 170.52 175.99L37.76 198.34Q27.9 200 24.31 190.67L1.79 132.07Q0 127.4 0 122.4Z" fill="#0B7AC7" />
<path d="M3.59 26.83Q0 17.5 9.9 16.08L129.1 -1.08Q139 -2.5 143.84 6.25L177.38 66.84Q179.4 70.5 179.4 74.68L179.4 77.7Q179.4 79.7 177.43 80.06L40.89 104.75Q34 106 31.49 99.47Z" fill="#1890D6" />
<path d="M9.15 27.93Q6 19.5 14.91 18.26L126.29 2.74Q135.2 1.5 139.4 9.46L168.86 65.27Q174 75 163.19 77.04L43.38 99.7Q36.5 101 34.05 94.44Z" fill="#21A6E1" />
<polygon points="27.31,51.96 58.92,45.94 62.2,49.8 74.7,40.7 55,38.7 58.1,41.62 26.49,47.64" fill="#F9F9F9" />
<polygon points="82.8,55.14 50.69,61.03 47.2,57.7 34.7,66.2 55,68.8 51.49,65.36 83.6,59.46" fill="#F9F9F9" />
<polygon points="89.86,42.36 78.26,23.81 85.8,23.6 69.4,15.1 66.1,26.9 73.34,26.88 84.94,45.44" fill="#F9F9F9" />
<polygon points="91.88,53.99 104.11,72.6 96.9,73.4 113.3,81.3 115.9,68.8 108.96,69.42 96.72,50.81" fill="#F9F9F9" />
<polygon points="95.72,38.26 126.57,32.27 129.7,35.4 142.7,26.9 122.5,24.3 125.73,27.95 94.88,33.94" fill="#F9F9F9" />
<polygon points="148.92,39.83 117.4,45.36 114.6,42 100.8,50.5 121.1,53.8 118.16,49.69 149.68,44.17" fill="#F9F9F9" />
<text x="0" y="0" transform="translate(102.75 148.5) rotate(-10) scale(0.96 1)" text-anchor="middle" font-family="Liberation Sans, sans-serif" font-weight="bold" font-size="31" fill="#fff">MES</text>
</g>
<g transform="translate(1018.9 922.4)">
<path d="M0 27.5Q0 17.5 9.9 16.08L129.1 -1.08Q139 -2.5 143.84 6.25L176.01 64.38Q179.4 70.5 179.4 77.5L179.4 165.5Q179.4 174.5 170.52 175.99L37.76 198.34Q27.9 200 24.31 190.67L1.79 132.07Q0 127.4 0 122.4Z" fill="#0B7AC7" />
<path d="M3.59 26.83Q0 17.5 9.9 16.08L129.1 -1.08Q139 -2.5 143.84 6.25L177.38 66.84Q179.4 70.5 179.4 74.68L179.4 77.7Q179.4 79.7 177.43 80.06L40.89 104.75Q34 106 31.49 99.47Z" fill="#1890D6" />
<path d="M9.15 27.93Q6 19.5 14.91 18.26L126.29 2.74Q135.2 1.5 139.4 9.46L168.86 65.27Q174 75 163.19 77.04L43.38 99.7Q36.5 101 34.05 94.44Z" fill="#21A6E1" />
<polygon points="27.31,51.96 58.92,45.94 62.2,49.8 74.7,40.7 55,38.7 58.1,41.62 26.49,47.64" fill="#F9F9F9" />
<polygon points="82.8,55.14 50.69,61.03 47.2,57.7 34.7,66.2 55,68.8 51.49,65.36 83.6,59.46" fill="#F9F9F9" />
<polygon points="89.86,42.36 78.26,23.81 85.8,23.6 69.4,15.1 66.1,26.9 73.34,26.88 84.94,45.44" fill="#F9F9F9" />
<polygon points="91.88,53.99 104.11,72.6 96.9,73.4 113.3,81.3 115.9,68.8 108.96,69.42 96.72,50.81" fill="#F9F9F9" />
<polygon points="95.72,38.26 126.57,32.27 129.7,35.4 142.7,26.9 122.5,24.3 125.73,27.95 94.88,33.94" fill="#F9F9F9" />
<polygon points="148.92,39.83 117.4,45.36 114.6,42 100.8,50.5 121.1,53.8 118.16,49.69 149.68,44.17" fill="#F9F9F9" />
<text x="0" y="0" transform="translate(111.5 145) rotate(-10) scale(0.96 1)" text-anchor="middle" font-family="Liberation Sans, sans-serif" font-weight="bold" font-size="31" fill="#fff">MES</text>
</g>
<g transform="translate(1464.8 922.4)">
<path d="M0 27.5Q0 17.5 9.9 16.08L129.1 -1.08Q139 -2.5 143.84 6.25L176.01 64.38Q179.4 70.5 179.4 77.5L179.4 165.5Q179.4 174.5 170.52 175.99L37.76 198.34Q27.9 200 24.31 190.67L1.79 132.07Q0 127.4 0 122.4Z" fill="#0B7AC7" />
<path d="M3.59 26.83Q0 17.5 9.9 16.08L129.1 -1.08Q139 -2.5 143.84 6.25L177.38 66.84Q179.4 70.5 179.4 74.68L179.4 77.7Q179.4 79.7 177.43 80.06L40.89 104.75Q34 106 31.49 99.47Z" fill="#1890D6" />
<path d="M9.15 27.93Q6 19.5 14.91 18.26L126.29 2.74Q135.2 1.5 139.4 9.46L168.86 65.27Q174 75 163.19 77.04L43.38 99.7Q36.5 101 34.05 94.44Z" fill="#21A6E1" />
<polygon points="27.31,51.96 58.92,45.94 62.2,49.8 74.7,40.7 55,38.7 58.1,41.62 26.49,47.64" fill="#F9F9F9" />
<polygon points="82.8,55.14 50.69,61.03 47.2,57.7 34.7,66.2 55,68.8 51.49,65.36 83.6,59.46" fill="#F9F9F9" />
<polygon points="89.86,42.36 78.26,23.81 85.8,23.6 69.4,15.1 66.1,26.9 73.34,26.88 84.94,45.44" fill="#F9F9F9" />
<polygon points="91.88,53.99 104.11,72.6 96.9,73.4 113.3,81.3 115.9,68.8 108.96,69.42 96.72,50.81" fill="#F9F9F9" />
<polygon points="95.72,38.26 126.57,32.27 129.7,35.4 142.7,26.9 122.5,24.3 125.73,27.95 94.88,33.94" fill="#F9F9F9" />
<polygon points="148.92,39.83 117.4,45.36 114.6,42 100.8,50.5 121.1,53.8 118.16,49.69 149.68,44.17" fill="#F9F9F9" />
<text x="0" y="0" transform="translate(111.9 145) rotate(-10) scale(0.96 1)" text-anchor="middle" font-family="Liberation Sans, sans-serif" font-weight="bold" font-size="31" fill="#fff">MES</text>
</g>
<g transform="translate(1034.2 1310)">
<path d="M0 27.5Q0 17.5 9.9 16.08L129.1 -1.08Q139 -2.5 143.84 6.25L176.01 64.38Q179.4 70.5 179.4 77.5L179.4 165.5Q179.4 174.5 170.52 175.99L37.76 198.34Q27.9 200 24.31 190.67L1.79 132.07Q0 127.4 0 122.4Z" fill="#0B7AC7" />
<path d="M3.59 26.83Q0 17.5 9.9 16.08L129.1 -1.08Q139 -2.5 143.84 6.25L177.38 66.84Q179.4 70.5 179.4 74.68L179.4 77.7Q179.4 79.7 177.43 80.06L40.89 104.75Q34 106 31.49 99.47Z" fill="#1890D6" />
<path d="M9.15 27.93Q6 19.5 14.91 18.26L126.29 2.74Q135.2 1.5 139.4 9.46L168.86 65.27Q174 75 163.19 77.04L43.38 99.7Q36.5 101 34.05 94.44Z" fill="#21A6E1" />
<polygon points="27.31,51.96 58.92,45.94 62.2,49.8 74.7,40.7 55,38.7 58.1,41.62 26.49,47.64" fill="#F9F9F9" />
<polygon points="82.8,55.14 50.69,61.03 47.2,57.7 34.7,66.2 55,68.8 51.49,65.36 83.6,59.46" fill="#F9F9F9" />
<polygon points="89.86,42.36 78.26,23.81 85.8,23.6 69.4,15.1 66.1,26.9 73.34,26.88 84.94,45.44" fill="#F9F9F9" />
<polygon points="91.88,53.99 104.11,72.6 96.9,73.4 113.3,81.3 115.9,68.8 108.96,69.42 96.72,50.81" fill="#F9F9F9" />
<polygon points="95.72,38.26 126.57,32.27 129.7,35.4 142.7,26.9 122.5,24.3 125.73,27.95 94.88,33.94" fill="#F9F9F9" />
<polygon points="148.92,39.83 117.4,45.36 114.6,42 100.8,50.5 121.1,53.8 118.16,49.69 149.68,44.17" fill="#F9F9F9" />
<text x="0" y="0" transform="translate(111.9 145) rotate(-10) scale(0.96 1)" text-anchor="middle" font-family="Liberation Sans, sans-serif" font-weight="bold" font-size="31" fill="#fff">MES</text>
</g>
<g transform="translate(1498.75 1310)">
<path d="M0 27.5Q0 17.5 9.9 16.08L129.1 -1.08Q139 -2.5 143.84 6.25L176.01 64.38Q179.4 70.5 179.4 77.5L179.4 165.5Q179.4 174.5 170.52 175.99L37.76 198.34Q27.9 200 24.31 190.67L1.79 132.07Q0 127.4 0 122.4Z" fill="#0B7AC7" />
<path d="M3.59 26.83Q0 17.5 9.9 16.08L129.1 -1.08Q139 -2.5 143.84 6.25L177.38 66.84Q179.4 70.5 179.4 74.68L179.4 77.7Q179.4 79.7 177.43 80.06L40.89 104.75Q34 106 31.49 99.47Z" fill="#1890D6" />
<path d="M9.15 27.93Q6 19.5 14.91 18.26L126.29 2.74Q135.2 1.5 139.4 9.46L168.86 65.27Q174 75 163.19 77.04L43.38 99.7Q36.5 101 34.05 94.44Z" fill="#21A6E1" />
<polygon points="27.31,51.96 58.92,45.94 62.2,49.8 74.7,40.7 55,38.7 58.1,41.62 26.49,47.64" fill="#F9F9F9" />
<polygon points="82.8,55.14 50.69,61.03 47.2,57.7 34.7,66.2 55,68.8 51.49,65.36 83.6,59.46" fill="#F9F9F9" />
<polygon points="89.86,42.36 78.26,23.81 85.8,23.6 69.4,15.1 66.1,26.9 73.34,26.88 84.94,45.44" fill="#F9F9F9" />
<polygon points="91.88,53.99 104.11,72.6 96.9,73.4 113.3,81.3 115.9,68.8 108.96,69.42 96.72,50.81" fill="#F9F9F9" />
<polygon points="95.72,38.26 126.57,32.27 129.7,35.4 142.7,26.9 122.5,24.3 125.73,27.95 94.88,33.94" fill="#F9F9F9" />
<polygon points="148.92,39.83 117.4,45.36 114.6,42 100.8,50.5 121.1,53.8 118.16,49.69 149.68,44.17" fill="#F9F9F9" />
<text x="0" y="0" transform="translate(105.4 145) rotate(-10) scale(0.96 1)" text-anchor="middle" font-family="Liberation Sans, sans-serif" font-weight="bold" font-size="31" fill="#fff">MES</text>
</g>
<g transform="translate(1024.4 1585.9)">
<path d="M0 27.8Q0 17.8 9.92 16.55L143.58 -0.35Q153.5 -1.6 158.53 7.04L196.28 71.95Q199.8 78 199.8 85L199.8 136.5Q199.8 145.5 190.92 146.97L41.27 171.77Q31.4 173.4 27.63 164.14L1.89 100.93Q0 96.3 0 91.3Z" fill="#0B7AC7" />
<path d="M3.21 27.27Q0 17.8 9.92 16.55L143.58 -0.35Q153.5 -1.6 158.53 7.04L197.1 73.36Q199.8 78 199.8 83.36L199.8 87.8Q199.8 89.8 197.82 90.07L39.23 112.04Q32.3 113 30.05 106.37Z" fill="#1890D6" />
<path d="M9.87 31.69Q6.6 23.3 15.54 22.25L143.86 7.25Q152.8 6.2 157.07 14.12L187.15 69.88Q193.8 82.2 180.01 84.63L47.98 107.91Q40.1 109.3 37.2 101.85Z" fill="#21A6E1" />
<polygon points="71.23,36.27 107.89,31.08 114.3,36.9 126.6,25.3 100.6,19.1 107.02,24.94 70.37,30.13" fill="#F9F9F9" />
<polygon points="107.71,42.53 71.41,47.18 64.3,41.7 52.7,52.7 79.4,59.5 72.2,53.33 108.49,48.67" fill="#F9F9F9" />
<polygon points="96.25,68.07 132.62,62.69 139,68.4 151.3,56.8 125.3,50.6 131.72,56.56 95.35,61.93" fill="#F9F9F9" />
<polygon points="132.8,73.93 96.4,78.61 89.7,73.2 77.3,84.2 104,91 97.19,84.76 133.6,80.07" fill="#F9F9F9" />
<text x="0" y="0" transform="translate(112.5 136) rotate(-10) scale(0.96 1)" text-anchor="middle" font-family="Liberation Sans, sans-serif" font-weight="bold" font-size="31" fill="#fff">MES</text>
</g>
<g transform="translate(1488.75 1586)">
<path d="M0 27.8Q0 17.8 9.92 16.55L143.58 -0.35Q153.5 -1.6 158.53 7.04L196.28 71.95Q199.8 78 199.8 85L199.8 136.5Q199.8 145.5 190.92 146.97L41.27 171.77Q31.4 173.4 27.63 164.14L1.89 100.93Q0 96.3 0 91.3Z" fill="#0B7AC7" />
<path d="M3.21 27.27Q0 17.8 9.92 16.55L143.58 -0.35Q153.5 -1.6 158.53 7.04L197.1 73.36Q199.8 78 199.8 83.36L199.8 87.8Q199.8 89.8 197.82 90.07L39.23 112.04Q32.3 113 30.05 106.37Z" fill="#1890D6" />
<path d="M9.87 31.69Q6.6 23.3 15.54 22.25L143.86 7.25Q152.8 6.2 157.07 14.12L187.15 69.88Q193.8 82.2 180.01 84.63L47.98 107.91Q40.1 109.3 37.2 101.85Z" fill="#21A6E1" />
<polygon points="71.23,36.27 107.89,31.08 114.3,36.9 126.6,25.3 100.6,19.1 107.02,24.94 70.37,30.13" fill="#F9F9F9" />
<polygon points="107.71,42.53 71.41,47.18 64.3,41.7 52.7,52.7 79.4,59.5 72.2,53.33 108.49,48.67" fill="#F9F9F9" />
<polygon points="96.25,68.07 132.62,62.69 139,68.4 151.3,56.8 125.3,50.6 131.72,56.56 95.35,61.93" fill="#F9F9F9" />
<polygon points="132.8,73.93 96.4,78.61 89.7,73.2 77.3,84.2 104,91 97.19,84.76 133.6,80.07" fill="#F9F9F9" />
<text x="0" y="0" transform="translate(128.2 136) rotate(-10) scale(0.96 1)" text-anchor="middle" font-family="Liberation Sans, sans-serif" font-weight="bold" font-size="31" fill="#fff">MES</text>
</g>
<g transform="translate(1024.5 1853.75)">
<path d="M0 27.8Q0 17.8 9.92 16.55L143.58 -0.35Q153.5 -1.6 158.53 7.04L196.28 71.95Q199.8 78 199.8 85L199.8 136.5Q199.8 145.5 190.92 146.97L41.27 171.77Q31.4 173.4 27.63 164.14L1.89 100.93Q0 96.3 0 91.3Z" fill="#0B7AC7" />
<path d="M3.21 27.27Q0 17.8 9.92 16.55L143.58 -0.35Q153.5 -1.6 158.53 7.04L197.1 73.36Q199.8 78 199.8 83.36L199.8 87.8Q199.8 89.8 197.82 90.07L39.23 112.04Q32.3 113 30.05 106.37Z" fill="#1890D6" />
<path d="M9.87 31.69Q6.6 23.3 15.54 22.25L143.86 7.25Q152.8 6.2 157.07 14.12L187.15 69.88Q193.8 82.2 180.01 84.63L47.98 107.91Q40.1 109.3 37.2 101.85Z" fill="#21A6E1" />
<path d="M110.1 51.58L110.43 53.1L110.37 54.63L109.94 56.11L109.15 57.5L108.02 58.76L106.59 59.84L104.89 60.72L102.99 61.37L100.93 61.76L98.78 61.9L96.61 61.76L94.48 61.36L92.46 60.72L90.61 59.84L88.98 58.75L87.63 57.5L86.59 56.11L85.9 54.62L85.57 53.1L85.63 51.57L86.06 50.09L86.85 48.7L87.98 47.44L89.41 46.36L91.11 45.48L93.01 44.83L95.07 44.44L97.22 44.3L99.39 44.44L101.52 44.84L103.54 45.48L105.39 46.36L107.02 47.45L108.37 48.7L109.41 50.09L110.1 51.58Z" fill="#fff"/>
<path d="M88.39 74.3L86.83 73.85L85.3 73.36L83.81 72.8L82.35 72.2L80.93 71.55L79.56 70.84L78.24 70.1L76.96 69.3L75.75 68.47L74.59 67.59L73.49 66.68L72.46 65.73L71.49 64.75L70.6 63.73L69.77 62.69L69.02 61.63L68.35 60.54L67.75 59.43L67.23 58.31L66.8 57.17L66.44 56.02L66.17 54.86L65.98 53.7L65.87 52.54L65.85 51.38L65.92 50.22L66.06 49.07L66.29 47.93L66.61 46.81L67 45.7" fill="none" stroke="#fff" stroke-width="15" stroke-linecap="round"/>
<path d="M72.28 91.92L69.61 90.89L67 89.78L64.46 88.58L61.99 87.3L59.61 85.94L57.32 84.51L55.12 83.01L53.02 81.44L51.01 79.8L49.12 78.1L47.34 76.35L45.67 74.54L44.12 72.69L42.69 70.79L41.39 68.85L40.22 66.87L39.18 64.87L38.28 62.83L37.51 60.78L36.87 58.7L36.38 56.62L36.03 54.52L35.81 52.42L35.74 50.33L35.81 48.24L36.03 46.16L36.38 44.1L36.87 42.05L37.5 40.04L38.28 38.05" fill="none" stroke="#fff" stroke-width="15" stroke-linecap="round"/>
<path d="M114.78 33.68L116.23 34.38L117.62 35.12L118.96 35.91L120.25 36.75L121.48 37.63L122.65 38.55L123.75 39.51L124.79 40.5L125.76 41.53L126.65 42.59L127.47 43.68L128.21 44.79L128.87 45.92L129.45 47.07L129.95 48.23L130.36 49.41L130.69 50.6L130.94 51.8L131.09 53L131.17 54.2L131.15 55.39L131.05 56.58L130.86 57.76L130.58 58.93L130.22 60.09L129.78 61.22L129.25 62.34L128.64 63.43L127.95 64.49L127.18 65.52" fill="none" stroke="#fff" stroke-width="15" stroke-linecap="round"/>
<path d="M130.7 16.79L133.37 18.12L135.95 19.55L138.43 21.05L140.81 22.65L143.08 24.31L145.23 26.06L147.26 27.87L149.16 29.75L150.94 31.68L152.58 33.67L154.07 35.72L155.43 37.8L156.64 39.93L157.7 42.09L158.6 44.27L159.35 46.48L159.94 48.71L160.38 50.95L160.65 53.19L160.76 55.43L160.72 57.67L160.51 59.89L160.14 62.1L159.61 64.29L158.93 66.44L158.09 68.57L157.09 70.65L155.95 72.69L154.65 74.67L153.21 76.6" fill="none" stroke="#fff" stroke-width="15" stroke-linecap="round"/>
<text x="0" y="0" transform="translate(121.8 147.8) rotate(-10) scale(0.96 1)" text-anchor="middle" font-family="Liberation Sans, sans-serif" font-weight="bold" font-size="31" fill="#fff">WEP</text>
</g>
<g>
<defs><clipPath id="capclip"><path d="M844.3 1903.6 Q901 1869.4 957.9 1903.3 V1942.8 H955.5 Q901 1909.4 846.8 1942.8 H844.3 Z"/></clipPath></defs>
<path d="M844.3 1903.6 Q901 1869.4 957.9 1903.3 V1942.8 H955.5 Q901 1909.4 846.8 1942.8 H844.3 Z" fill="#828387"/>
<rect x="866" y="1870" width="73" height="75" fill="#B3B4B6" clip-path="url(#capclip)"/>
<path d="M844.3 1903.6 Q901 1869.4 957.9 1903.3 V1942.8 H955.5 Q901 1909.4 846.8 1942.8 H844.3 Z" fill="none" stroke="#6D6E71" stroke-width="1.4" stroke-linejoin="round"/>
<path d="M849.2 1941.5 Q901 1915.5 953.2 1941.5 Q953 1993.5 901 1993.8 Q849 1993.5 849.2 1941.5 Z" fill="#8A8B8F" stroke="#6D6E71" stroke-width="1.6"/>
<path d="M849.5 1940.8 Q901 1916 952.5 1940.8" fill="none" stroke="#F4F4F4" stroke-width="1.7"/>
<path d="M847 1939.6 Q901 1913.4 955 1939.6" fill="none" stroke="#6D6E71" stroke-width="2.2"/>
<path d="M855.5 1945.5 Q861 1939 867.8 1937.5 Q869 1957 878.5 1968.6 Q874 1972 869.8 1973.5 Q855 1962 855.5 1945.5 Z" fill="#E6E7E9"/>
<path d="M946.5 1945 Q941 1939 936.8 1937 Q935 1956 925 1967.8 Q929 1972 933.3 1972.8 Q947 1960 946.5 1945 Z" fill="#E6E7E9"/>
<ellipse cx="900.9" cy="1970.5" rx="16.2" ry="17.8" fill="#E6E7E9"/>
<ellipse cx="900.9" cy="1972.3" rx="12.2" ry="10.5" fill="#5A5B5E"/>
<circle cx="900.9" cy="1974.8" r="7.2" fill="#fff"/>
</g>
<path d="M913.05 2272.53Q909.6 2270.5 913.02 2268.43L972.43 2232.55Q975 2231 977.61 2232.48L1088.68 2295.54Q1093.9 2298.5 1088.85 2301.75L1033.65 2337.25Q1028.6 2340.5 1023.43 2337.46Z" fill="#0B7AC7" />
<path d="M913.05 2268.82Q909.6 2266.8 913.02 2264.72L973.29 2228.14Q975 2227.1 976.74 2228.08L1089.28 2291.65Q1094.5 2294.6 1089.43 2297.81L1033.67 2333.19Q1028.6 2336.4 1023.42 2333.37Z" fill="#21A6E1" />
<polygon points="934.3,2256.1 976.1,2231.4 1086.4,2295.7 1044.6,2319.3" fill="#0B7AC7" />
<path d="M962.12 2289.93Q961.1 2289.3 962.1 2288.63L969.7 2283.57Q970.7 2282.9 971.73 2283.52L996.47 2298.28Q997.5 2298.9 996.47 2299.52L987.83 2304.68Q986.8 2305.3 985.78 2304.67Z" fill="#0B7AC7" />
<path d="M975 2144.3Q975 2139.3 979.37 2141.73L1095.58 2206.34Q1098.2 2207.8 1098.2 2210.8L1098.2 2294.5Q1098.2 2296.5 1096.45 2295.53L975.88 2229.08Q975 2228.6 975 2227.6Z" fill="#21A6E1" />
<polygon points="980.4,2146.8 1091.8,2211.1 1091.8,2276.4 980.4,2213.2" fill="#0B7AC7" />
<path d="M1179.66 2163.85Q1182.9 2161.5 1186.37 2163.49L1244.09 2196.52Q1249.3 2199.5 1249.3 2205.5L1249.3 2331.2Q1249.3 2334.3 1246.35 2335.25L1245.75 2335.45Q1242.8 2336.4 1240.1 2334.86L1180.51 2300.78Q1175.3 2297.8 1175.3 2291.8L1175.3 2171Q1175.3 2167 1178.54 2164.65Z" fill="#0B7AC7" />
<path d="M1175.3 2172.3Q1175.3 2169.3 1177.91 2167.82L1180.29 2166.48Q1182.9 2165 1185.48 2166.52L1237.63 2197.25Q1242.8 2200.3 1242.8 2206.3L1242.8 2332.4Q1242.8 2336.4 1239.33 2334.41L1180.51 2300.78Q1175.3 2297.8 1175.3 2291.8Z" fill="#21A6E1" />
<path d="M1178.6 2176.6Q1178.6 2173.6 1181.21 2175.08L1231.19 2203.53Q1236.4 2206.5 1236.4 2212.5L1236.4 2314.1Q1236.4 2317.1 1233.78 2315.64L1183.85 2287.91Q1178.6 2285 1178.6 2279Z" fill="#0B7AC7" />
<path d="M1197.39 2304.87Q1198 2303.5 1199.5 2303.39L1200.5 2303.31Q1202 2303.2 1203.24 2304.05L1207.76 2307.15Q1209 2308 1208.39 2309.37L1207.61 2311.13Q1207 2312.5 1205.5 2312.5L1204.5 2312.5Q1203 2312.5 1201.74 2311.69L1197.26 2308.81Q1196 2308 1196.61 2306.63Z" fill="#fff" />
<path d="M1589.63 1925.93Q1590 1925 1590.3 1925.95L1599.38 1954.43Q1600.2 1957 1598.75 1959.27L1598.45 1959.73Q1597 1962 1594.76 1963.51L1575.26 1976.68Q1573.6 1977.8 1574.05 1975.85L1579.78 1950.97Q1580 1950 1580.37 1949.07Z" fill="#0B7AC7" />
<path d="M1548.5 1840.5 L1609 1877.4 Q1615.5 1881.3 1612.5 1888.3 L1575.5 1978.5 Q1572.2 1986.5 1565 1982 L1503 1946 Q1496 1941.5 1497.5 1934 C1505 1895 1522 1860 1534 1843 Q1539.5 1836 1548.5 1840.5 Z" fill="#1890D6"/>
<path d="M1536.31 1847.77Q1537.99 1845.48 1540.8 1845.13L1541.37 1845.06Q1544.18 1844.71 1546.52 1846.31L1553.08 1850.83Q1556.56 1853.22 1556.39 1857.44L1556.34 1858.51Q1556.18 1862.51 1554.73 1866.24L1551.04 1875.8Q1549.6 1879.54 1545.68 1880.35L1544.53 1880.59Q1540.31 1881.47 1538.12 1885.19L1533.77 1892.59Q1528.7 1901.21 1526.35 1910.93L1524.06 1920.43Q1523.28 1923.65 1525.04 1926.47L1525.39 1927.03Q1527.15 1929.85 1526.68 1933.13L1525.47 1941.64Q1524.83 1946.1 1522.02 1949.62L1521.45 1950.32Q1518.64 1953.84 1514.34 1952.47L1505.06 1949.52Q1501.61 1948.42 1499.85 1945.25L1499.5 1944.62Q1497.74 1941.46 1498.39 1937.89L1502.14 1917.24Q1503.93 1907.4 1507.96 1898.25L1516.93 1877.85Q1520.96 1868.7 1526.87 1860.64Z" fill="#21A6E1" />
<path d="M1564.96 1864.7Q1565.5 1863.3 1566.79 1864.06L1597.11 1881.84Q1598.4 1882.6 1597.83 1883.99L1586.97 1910.61Q1586.4 1912 1585.11 1911.23L1555.49 1893.47Q1554.2 1892.7 1554.74 1891.3Z" fill="#0B7AC7" />
<path d="M1548.22 1920.43Q1548.78 1919.04 1550.03 1919.87L1552.64 1921.61Q1553.88 1922.44 1553.32 1923.83L1551.75 1927.65Q1551.18 1929.04 1549.94 1928.21L1547.33 1926.47Q1546.08 1925.64 1546.65 1924.25Z" fill="#21A6E1" />
<path d="M1558.28 1926.62Q1558.85 1925.23 1560.09 1926.06L1562.7 1927.8Q1563.95 1928.63 1563.38 1930.02L1561.81 1933.84Q1561.25 1935.23 1560 1934.4L1557.39 1932.66Q1556.15 1931.83 1556.71 1930.44Z" fill="#21A6E1" />
<path d="M1568.73 1932.43Q1569.3 1931.04 1570.54 1931.87L1573.15 1933.61Q1574.4 1934.44 1573.83 1935.83L1572.26 1939.65Q1571.7 1941.04 1570.45 1940.21L1567.84 1938.47Q1566.6 1937.64 1567.16 1936.25Z" fill="#21A6E1" />
<path d="M1543.19 1932.04Q1543.75 1930.65 1545 1931.48L1547.61 1933.22Q1548.85 1934.05 1548.29 1935.44L1546.72 1939.26Q1546.15 1940.65 1544.91 1939.82L1542.3 1938.08Q1541.05 1937.25 1541.62 1935.86Z" fill="#21A6E1" />
<path d="M1553.63 1938.62Q1554.2 1937.23 1555.45 1938.06L1558.05 1939.8Q1559.3 1940.63 1558.73 1942.02L1557.17 1945.84Q1556.6 1947.23 1555.35 1946.4L1552.75 1944.66Q1551.5 1943.83 1552.07 1942.44Z" fill="#21A6E1" />
<path d="M1563.7 1944.42Q1564.26 1943.03 1565.51 1943.87L1568.12 1945.6Q1569.36 1946.43 1568.8 1947.82L1567.23 1951.65Q1566.66 1953.03 1565.42 1952.2L1562.81 1950.47Q1561.56 1949.63 1562.13 1948.25Z" fill="#21A6E1" />
<path d="M1538.54 1944.04Q1539.11 1942.65 1540.36 1943.48L1542.96 1945.22Q1544.21 1946.05 1543.64 1947.44L1542.08 1951.26Q1541.51 1952.65 1540.26 1951.82L1537.66 1950.08Q1536.41 1949.25 1536.98 1947.86Z" fill="#21A6E1" />
<path d="M1548.6 1950.23Q1549.17 1948.84 1550.42 1949.67L1553.02 1951.41Q1554.27 1952.24 1553.7 1953.63L1552.14 1957.45Q1551.57 1958.84 1550.32 1958.01L1547.72 1956.27Q1546.47 1955.44 1547.04 1954.05Z" fill="#21A6E1" />
<path d="M1559.05 1956.42Q1559.62 1955.03 1560.87 1955.86L1563.47 1957.6Q1564.72 1958.43 1564.15 1959.82L1562.59 1963.64Q1562.02 1965.03 1560.77 1964.2L1558.17 1962.46Q1556.92 1961.63 1557.49 1960.24Z" fill="#21A6E1" />
<path d="M1540.81 1915.68Q1541.44 1914.66 1542.48 1915.27L1544.11 1916.25Q1545.14 1916.86 1544.51 1917.88L1543.68 1919.24Q1543.04 1920.26 1542.01 1919.65L1540.38 1918.67Q1539.34 1918.06 1539.98 1917.04Z" fill="#21A6E1" />
<path d="M1537.33 1924.97Q1537.96 1923.95 1538.99 1924.56L1540.63 1925.54Q1541.66 1926.15 1541.03 1927.17L1540.19 1928.53Q1539.56 1929.55 1538.53 1928.94L1536.89 1927.96Q1535.86 1927.35 1536.49 1926.33Z" fill="#21A6E1" />
<path d="M1533.46 1933.87Q1534.09 1932.85 1535.12 1933.46L1536.76 1934.44Q1537.79 1935.05 1537.16 1936.07L1536.32 1937.43Q1535.69 1938.45 1534.66 1937.84L1533.02 1936.86Q1531.99 1936.25 1532.62 1935.23Z" fill="#21A6E1" />
<path d="M1529.98 1942.77Q1530.61 1941.75 1531.64 1942.36L1533.28 1943.34Q1534.31 1943.95 1533.68 1944.97L1532.84 1946.33Q1532.21 1947.35 1531.18 1946.74L1529.54 1945.76Q1528.51 1945.15 1529.14 1944.13Z" fill="#21A6E1" />
<path d="M1635.7 1907.2Q1635.7 1901.2 1640.92 1898.24L1676.98 1877.76Q1682.2 1874.8 1688.13 1875.71L1699.15 1877.39Q1703.1 1878 1706.56 1880.01L1771.79 1917.98Q1778.7 1922 1778.7 1930L1778.7 1967Q1778.7 1975 1771.64 1978.77L1734.72 1998.49Q1725.9 2003.2 1717.12 1998.41L1640.97 1956.87Q1635.7 1954 1635.7 1948Z" fill="#1890D6" />
<path d="M1643.22 1905.46Q1638 1902.5 1643.2 1899.51L1679.8 1878.49Q1685 1875.5 1690.75 1877.22L1701.17 1880.35Q1705 1881.5 1708.44 1883.54L1769.76 1919.91Q1777.5 1924.5 1769.81 1929.18L1739.25 1947.76Q1729 1954 1718.56 1948.09Z" fill="#0B7AC7" />
<polygon points="1712.2,1840.2 1766,1870.3 1754.1,1913.1 1703.1,1899.4" fill="#0B7AC7" />
<polygon points="1713.2,1857.5 1752.3,1879.4 1742.3,1922.2 1702.2,1900.3" fill="#F2F2F2" />
<polygon points="1713.2,1857.5 1752.3,1879.4 1751.5,1882.5 1712.5,1860.8" fill="#BDBDBD" />
<polygon points="1669.4,1921.3 1677.6,1917.6 1706.8,1935.8 1699.5,1940.4" fill="#fff" />
<polygon points="1651.2,1951.3 1702.2,1980.4 1702.2,1992 1651.2,1963" fill="#0B7AC7" />
<path d="M1612.7 1993.16Q1610.2 1991.5 1612.81 1990.01L1652.29 1967.49Q1654.9 1966 1657.49 1967.51L1699.61 1991.99Q1702.2 1993.5 1699.67 1995.11L1659.23 2020.89Q1656.7 2022.5 1654.2 2020.84Z" fill="#0B7AC7" />
<path d="M1612.7 1990.36Q1610.2 1988.7 1612.81 1987.21L1652.29 1964.69Q1654.9 1963.2 1657.5 1964.7L1699.6 1989Q1702.2 1990.5 1699.67 1992.12L1659.23 2017.98Q1656.7 2019.6 1654.2 2017.94Z" fill="#1890D6" />
<polygon points="1624.8,1986.8 1661.2,1965 1693.1,1984.1 1656.7,2005" fill="#F2F2F2" />
<polygon points="1560.5,2147 1580.9,2159 1580.9,2168.3 1566.2,2176.6 1546.5,2164.5 1560.5,2156.8" fill="#21A6E1" />
<polygon points="1546.5,2164.5 1566.2,2176.6 1566.2,2178.2 1546.5,2166.2" fill="#0B7AC7" />
<path d="M1511.5 2045.1Q1511.5 2041.1 1515 2043.04L1621.3 2102.06Q1624.8 2104 1624.8 2108L1624.8 2180.8Q1624.8 2184.8 1621.31 2182.84L1514.12 2122.67Q1511.5 2121.2 1511.5 2118.2Z" fill="#21A6E1" />
<polygon points="1513.6,2046.8 1620.9,2108.2 1620.9,2170.2 1513.6,2109.8" fill="#0B7AC7" />
<path d="M1485.9 2184.55Q1484.2 2183.5 1485.84 2182.35L1506.06 2168.15Q1507.7 2167 1509.43 2168L1577.27 2207.3Q1579 2208.3 1577.45 2209.56L1556.95 2226.14Q1555.4 2227.4 1553.7 2226.35Z" fill="#0B7AC7" />
<path d="M1485.9 2182.05Q1484.2 2181 1485.84 2179.85L1506.06 2165.65Q1507.7 2164.5 1509.43 2165.5L1577.27 2204.8Q1579 2205.8 1577.45 2207.06L1556.95 2223.64Q1555.4 2224.9 1553.7 2223.85Z" fill="#21A6E1" />
<ellipse cx="1594.9" cy="2231.3" rx="12" ry="7" transform="rotate(-32 1594.9 2231.3)" fill="#21A6E1"/>
<g stroke="#000" stroke-width="2" fill="none">
<line x1="1125.8" y1="187.5" x2="1111.25" y2="286.7"/>
<line x1="1526.4" y1="187.3" x2="1516" y2="306.8"/>
<line x1="175.6" y1="320.8" x2="578.6" y2="365.2"/>
<line x1="175.6" y1="320.8" x2="608.6" y2="722.7"/>
<line x1="174.8" y1="574.5" x2="578.6" y2="365.2"/>
<line x1="174.8" y1="574.5" x2="608.6" y2="722.7"/>
<line x1="174.8" y1="808.2" x2="578.6" y2="365.2"/>
<line x1="174.8" y1="808.2" x2="608.6" y2="722.7"/>
<line x1="170.8" y1="1035.2" x2="578.6" y2="365.2"/>
<line x1="170.8" y1="1035.2" x2="608.6" y2="722.7"/>
<line x1="653" y1="443.2" x2="653" y2="636.3"/>
<line x1="693.3" y1="445.1" x2="695" y2="631"/>
<line x1="748.9" y1="398.6" x2="1109.1" y2="930.2"/>
<line x1="748.9" y1="398.6" x2="1512.7" y2="936.5"/>
<line x1="779.5" y1="757.1" x2="1109.1" y2="930.2"/>
<line x1="779.5" y1="757.1" x2="1512.7" y2="936.5"/>
<line x1="1110.6" y1="467.1" x2="1109.1" y2="930.2"/>
<line x1="1110.6" y1="467.1" x2="1512.7" y2="936.5"/>
<line x1="1516.3" y1="487.1" x2="1109.1" y2="930.2"/>
<line x1="1516.3" y1="487.1" x2="1512.7" y2="936.5"/>
<line x1="1198.4" y1="1022.7" x2="1464.8" y2="1022.7"/>
<line x1="1198.4" y1="1042.8" x2="1464.8" y2="1042.8"/>
<line x1="1109.2" y1="1108.75" x2="1125" y2="1318.3"/>
<line x1="1109.2" y1="1108.75" x2="1547.1" y2="1324.2"/>
<line x1="1555.4" y1="1108.75" x2="1125" y2="1318.3"/>
<line x1="1555.4" y1="1108.75" x2="1547.1" y2="1324.2"/>
<line x1="1213.3" y1="1410.7" x2="1498.75" y2="1410.7"/>
<line x1="1213.3" y1="1430.7" x2="1498.75" y2="1430.7"/>
<line x1="1125" y1="1496.7" x2="1125" y2="1596"/>
<line x1="1125" y1="1496.7" x2="1589.6" y2="1596.7"/>
<line x1="1589.6" y1="1496.7" x2="1125" y2="1596"/>
<line x1="1589.6" y1="1496.7" x2="1589.6" y2="1596.7"/>
<line x1="1125" y1="1745.4" x2="959.5" y2="1890"/>
<line x1="1125" y1="1745.4" x2="1125" y2="1864.25"/>
<line x1="1555.6" y1="1751" x2="1555.6" y2="1840.2"/>
<line x1="1623.9" y1="1739.1" x2="1675.8" y2="1880.3"/>
<line x1="1555.6" y1="1986.8" x2="1555.4" y2="2068.4"/>
<ellipse cx="814.9" cy="458.9" rx="50" ry="30"/>
<ellipse cx="674.8" cy="554.9" rx="50" ry="30"/>
<ellipse cx="854.8" cy="792.9" rx="50" ry="30"/>
<ellipse cx="1346.25" cy="1032.85" rx="19.6" ry="29.8"/>
<ellipse cx="1362" cy="1420.7" rx="20" ry="30"/>
<ellipse cx="1129.1" cy="1580.6" rx="44" ry="20"/>
<ellipse cx="1589.6" cy="1592.5" rx="44" ry="20"/>
</g>
<text font-family="Liberation Sans, sans-serif" font-size="24" fill="#000" text-anchor="middle"><tspan x="1348.5" y="955.7">Коммутаторы</tspan><tspan x="1348.5" y="985.7">ядра</tspan></text>
<text font-family="Liberation Sans, sans-serif" font-size="24" fill="#000" text-anchor="middle"><tspan x="1335" y="1314.3">Коммутаторы</tspan><tspan x="1335" y="1343.6">агрегации сети ПД</tspan></text>
</svg>
</body></html>
